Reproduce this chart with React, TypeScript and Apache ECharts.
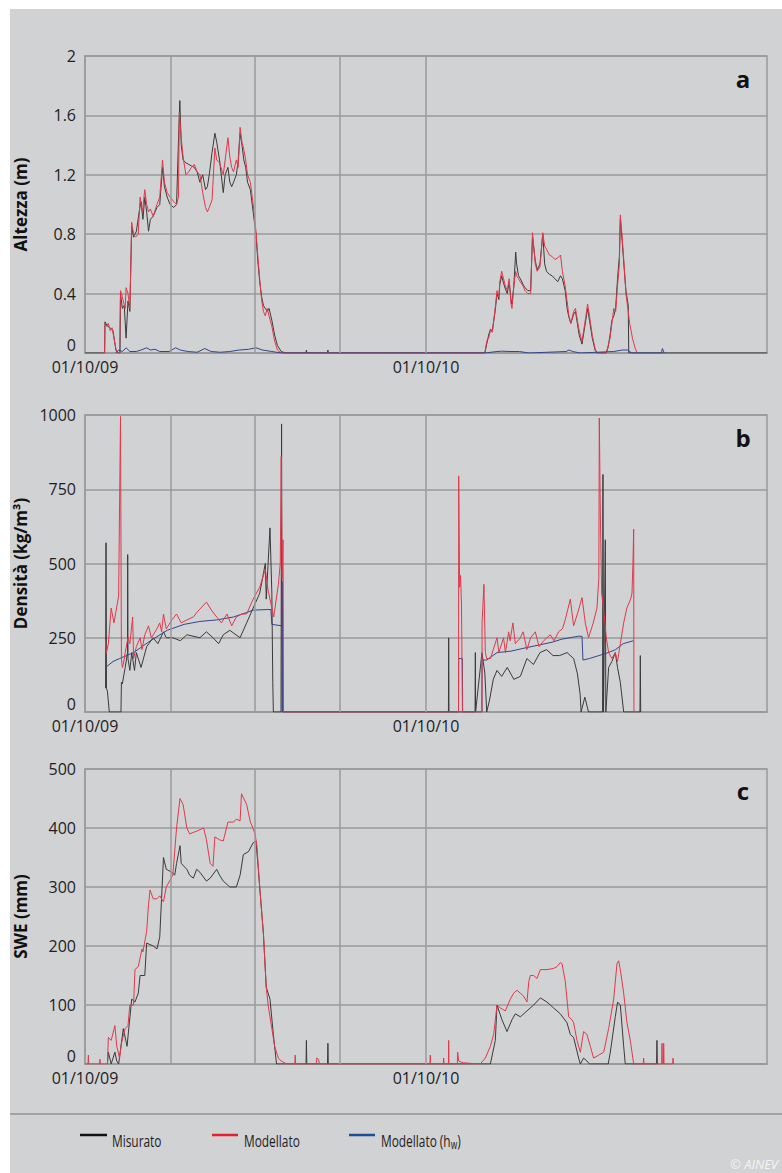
import { useEffect, useRef } from "react";
import * as echarts from "echarts";

type Pt = [number, number];

// x values are days counted from 01/10/2009
const dateLabels: Record<number, string> = { 0: "01/10/09", 365: "01/10/10" };
const quarterDays = [92, 182, 273, 365];

// ---- a: snow height (m)
const heightMeasured: Pt[] = [
  [0, 0], [21, 0], [21.4, 0.21], [24, 0.18], [27, 0.17], [30, 0.15], [33, 0.02], [36, 0], [37.5, 0],
  [38, 0.4], [40, 0.3], [42, 0.32], [44, 0.1], [46, 0.35], [48, 0.28], [50, 0.85], [52, 0.78], [55, 0.82],
  [58, 0.95], [60, 1.02], [62, 0.9], [64, 1.05], [66, 0.95], [68, 0.82], [70, 0.9], [73, 0.92], [77, 0.98],
  [80, 1.0], [83, 1.25], [85, 1.12], [88, 1.05], [91, 1.0], [95, 0.98], [98, 1.0], [100, 1.42], [101.5, 1.7],
  [103, 1.4], [105, 1.3], [108, 1.28], [111, 1.27], [114, 1.26], [117, 1.25], [120, 1.22], [123, 1.15],
  [126, 1.2], [129, 1.1], [131, 1.12], [133, 1.2], [136, 1.35], [139, 1.48], [141, 1.42], [144, 1.3],
  [148, 1.08], [150, 1.2], [153, 1.25], [155, 1.15], [157, 1.12], [159, 1.15], [162, 1.2], [164, 1.3],
  [166, 1.48], [168, 1.4], [170, 1.3], [172, 1.25], [174, 1.15], [177, 1.1], [180, 0.95], [183, 0.8],
  [185, 0.62], [187, 0.48], [189, 0.38], [191, 0.32], [193, 0.3], [195, 0.28], [197, 0.3], [200, 0.22],
  [203, 0.12], [206, 0.05], [210, 0.01], [215, 0], [236.5, 0], [237, 0.02], [237.5, 0], [259.5, 0],
  [260, 0.02], [260.5, 0], [428, 0], [430, 0.06], [432, 0.12], [434, 0.16], [436, 0.15], [439, 0.28],
  [441, 0.4], [443, 0.36], [444, 0.46], [446, 0.52], [448, 0.47], [450, 0.43], [452, 0.4], [454, 0.48],
  [456, 0.36], [457, 0.33], [459, 0.45], [461, 0.68], [462, 0.6], [464, 0.52], [466, 0.5], [469, 0.46],
  [471, 0.44], [474, 0.42], [477, 0.42], [479, 0.78], [482, 0.62], [484, 0.56], [487, 0.6], [490, 0.8],
  [492, 0.6], [494, 0.55], [497, 0.53], [500, 0.52], [503, 0.5], [506, 0.48], [509, 0.52], [511, 0.5],
  [514, 0.42], [516, 0.3], [518, 0.24], [520, 0.2], [523, 0.26], [525, 0.28], [527, 0.2], [529, 0.12],
  [532, 0.06], [535, 0.18], [538, 0.3], [540, 0.22], [543, 0.1], [546, 0.02], [548, 0], [558, 0],
  [560, 0.04], [562, 0.12], [564, 0.22], [566, 0.25], [568, 0.3], [570, 0.5], [572, 0.65], [573, 0.9],
  [575, 0.75], [577, 0.58], [579, 0.42], [581.5, 0.32], [582, 0], [591, 0], [730, 0],
];

const heightModelled: Pt[] = [
  [21, 0], [21.4, 0.2], [23, 0.18], [25, 0.2], [27, 0.15], [29, 0.17], [31, 0.1], [34, 0], [37, 0],
  [38, 0.42], [40, 0.38], [41, 0.35], [43, 0.3], [44, 0.44], [46, 0.4], [48, 0.3], [50, 0.88], [52, 0.8],
  [54, 0.78], [57, 0.8], [59, 1.05], [61, 0.95], [62, 0.98], [64, 1.1], [66, 1.0], [68, 0.95], [70, 0.97],
  [73, 0.92], [77, 1.0], [80, 1.05], [83, 1.3], [85, 1.15], [88, 1.08], [91, 1.05], [95, 1.02], [98, 1.0],
  [100, 1.05], [101, 1.62], [103, 1.45], [105, 1.32], [108, 1.2], [111, 1.22], [114, 1.25], [117, 1.27],
  [120, 1.22], [123, 1.2], [126, 1.08], [129, 0.98], [131, 0.95], [133, 0.98], [136, 1.03], [139, 1.38],
  [141, 1.3], [144, 1.28], [148, 1.2], [150, 1.3], [153, 1.45], [155, 1.32], [157, 1.25], [159, 1.22],
  [162, 1.3], [164, 1.25], [166, 1.52], [168, 1.42], [170, 1.37], [172, 1.3], [174, 1.2], [177, 1.15],
  [180, 1.0], [183, 0.82], [185, 0.65], [187, 0.5], [189, 0.36], [191, 0.28], [193, 0.25], [195, 0.3],
  [197, 0.25], [200, 0.18], [203, 0.08], [206, 0.02], [210, 0], [428, 0], [430, 0.08], [432, 0.1],
  [434, 0.15], [436, 0.14], [439, 0.3], [441, 0.42], [443, 0.38], [444, 0.48], [446, 0.55], [448, 0.5],
  [450, 0.45], [452, 0.42], [454, 0.5], [456, 0.33], [457, 0.3], [459, 0.45], [461, 0.55], [462, 0.52],
  [464, 0.5], [466, 0.48], [469, 0.45], [471, 0.42], [474, 0.4], [477, 0.4], [479, 0.81], [482, 0.6],
  [484, 0.55], [487, 0.58], [490, 0.81], [492, 0.72], [494, 0.7], [497, 0.66], [500, 0.65], [503, 0.63],
  [506, 0.64], [509, 0.66], [511, 0.55], [514, 0.45], [516, 0.35], [518, 0.25], [520, 0.2], [523, 0.28],
  [525, 0.3], [527, 0.22], [529, 0.15], [532, 0.08], [535, 0.2], [538, 0.33], [540, 0.25], [543, 0.12],
  [546, 0.03], [548, 0], [558, 0], [560, 0.05], [562, 0.1], [564, 0.2], [566, 0.3], [568, 0.28],
  [570, 0.45], [572, 0.6], [573, 0.93], [575, 0.78], [577, 0.6], [579, 0.4], [581, 0.3], [583, 0.2],
  [586, 0.1], [589, 0.03], [591, 0],
];

const heightWater: Pt[] = [
  [33, 0], [36, 0.02], [40, 0.01], [44, 0.035], [48, 0.01], [55, 0.01], [60, 0.02], [66, 0.035],
  [70, 0.02], [75, 0.025], [80, 0.01], [90, 0.01], [97, 0.035], [102, 0.02], [110, 0.01], [120, 0.005],
  [128, 0.03], [135, 0.01], [145, 0.005], [155, 0.01], [165, 0.02], [175, 0.025], [183, 0.035],
  [190, 0.02], [200, 0.01], [210, 0], [428, 0], [441, 0.01], [446, 0.012], [455, 0.01], [465, 0.01],
  [475, 0], [515, 0.01], [518, 0.02], [522, 0.01], [530, 0], [566, 0.01], [575, 0.02], [581, 0.02],
  [585, 0], [617, 0], [618, 0.03], [620, 0],
];

// ---- b: snow density (kg/m3)
const densityMeasured: Pt[] = [
  [22, 80], [22.5, 570], [23, 80], [24, 70], [26, 0], [38.5, 0], [39, 100], [40, 95], [43, 150],
  [45.5, 200], [45.7, 530], [46, 180], [48, 140], [50, 200], [53, 140], [55, 200], [60, 150], [66, 220],
  [73, 250], [78, 230], [84, 270], [87, 250], [94, 250], [102, 240], [109, 260], [123, 250], [130, 270],
  [137, 250], [143, 230], [148, 260], [155, 275], [166, 250], [173, 300], [180, 350], [187, 400],
  [193, 500], [194, 380], [198, 620], [200, 400], [201, 100], [201.6, 0], [209.8, 0], [210.4, 970],
  [211, 0], [389, 0], [389.3, 250], [389.6, 0], [417.5, 0], [417.8, 200], [418.1, 0], [424.9, 200],
  [428, 130], [430, 0], [433, 40], [437, 110], [441, 140], [446, 120], [452, 150], [459, 110],
  [466, 120], [473, 180], [480, 160], [487, 200], [494, 210], [501, 190], [508, 190], [516, 200],
  [523, 180], [527, 130], [530, 60], [531, 0], [535, 50], [539, 0], [554, 0], [554.4, 800], [555, 0],
  [556.9, 580], [557.5, 0], [560.5, 150], [564, 170], [567.6, 200], [570, 150], [573, 100], [576.6, 0],
  [594, 0], [594.4, 190], [594.8, 0],
];

const densityModelled: Pt[] = [
  [22, 240], [23, 200], [25, 230], [28, 350], [31, 300], [36, 390], [38, 995], [39, 180], [40, 150],
  [41, 160], [43, 200], [46, 250], [48, 230], [51, 320], [52, 180], [55, 220], [59, 250], [61, 210],
  [64, 260], [68, 290], [71, 250], [77, 280], [80, 300], [82, 270], [84, 330], [87, 280], [93, 310],
  [98, 330], [103, 300], [109, 310], [116, 320], [121, 340], [130, 370], [136, 340], [141, 320],
  [146, 300], [152, 330], [157, 290], [162, 320], [168, 330], [173, 330], [180, 380], [187, 420],
  [193, 480], [196, 410], [200, 350], [202, 320], [207, 430], [209, 500], [210, 860], [211, 450],
  [212, 580], [212.5, 0], [399.8, 0], [400, 795], [401, 420], [402, 460], [403, 360], [404, 0],
  [424.9, 0], [425, 300], [427, 430], [428.5, 200], [430, 180], [434, 180], [437, 210], [441, 250],
  [443, 200], [448, 250], [450, 200], [453.5, 270], [455, 240], [458, 300], [460.6, 230], [466, 250],
  [469, 270], [473, 210], [477, 250], [482, 270], [486, 220], [491, 240], [498, 260], [502, 240],
  [507, 270], [511, 280], [514, 310], [519.5, 380], [523, 290], [528, 340], [532, 385], [535.5, 300],
  [539, 250], [544, 300], [548, 350], [550, 450], [550.5, 990], [551.6, 670], [553, 400], [555, 350],
  [558, 250], [560.5, 200], [564, 180], [567.6, 200], [570, 170], [573, 230], [576.6, 300], [580, 350],
  [584, 380], [585.5, 400], [586.5, 500], [587.3, 615], [587.6, 0],
];

const densityWater: Pt[] = [
  [22, 150], [30, 170], [37, 180], [52, 200], [70, 240], [88, 275], [106, 295], [123, 305], [141, 310],
  [159, 320], [173, 335], [180, 343], [195, 345], [199, 345], [200, 295], [211, 290], [211.4, 440],
  [211.6, 0], [399.8, 0], [400, 180], [404, 180], [404.2, 0], [424.9, 0], [425, 175], [430, 175],
  [441, 200], [456, 205], [470, 215], [485, 225], [500, 235], [510, 245], [519, 250], [528, 255],
  [532, 255], [533, 175], [540, 180], [550, 190], [560, 200], [568, 210], [576, 230], [587, 240],
];

// ---- c: snow water equivalent (mm)
const sweMeasured: Pt[] = [
  [24, 0], [25, 20], [28, 0], [32, 20], [34, 5], [36, 0], [41, 60], [45, 30], [50, 110], [53.5, 105],
  [57, 120], [59, 150], [64, 150], [66, 205], [73, 200], [77, 195], [80, 215], [84, 350], [87, 330],
  [93, 325], [96, 320], [98, 340], [101.7, 370], [103, 340], [109, 330], [112, 320], [116, 315],
  [119.5, 330], [123, 325], [130, 310], [134, 315], [141, 330], [144, 320], [148, 310], [155, 300],
  [162, 300], [166, 320], [169.5, 355], [175, 360], [180, 375], [183, 378], [185.5, 330], [191, 220],
  [194, 130], [198, 110], [201.6, 50], [205, 0], [236.6, 0], [237, 40], [237.4, 0], [259.6, 0],
  [260, 35], [260.4, 0], [433.9, 0], [439.2, 40], [441, 100], [446.3, 75], [451.7, 55], [457, 75],
  [460.6, 85], [466, 80], [473.1, 90], [480.2, 100], [487.4, 112], [494.5, 105], [501.6, 95],
  [508.8, 85], [515.9, 70], [519.5, 50], [523, 45], [528.4, 10], [530.2, 0], [533.7, 10], [537.3, 5],
  [540, 0], [560, 0], [562.3, 20], [567.6, 80], [570.1, 105], [573, 100], [576.6, 30], [578.3, 0],
  [611.8, 0], [612.2, 40], [612.6, 0],
];

const sweModelled: Pt[] = [
  [0, 0], [3.2, 0], [3.6, 15], [4, 0], [15.6, 0], [16, 8], [16.4, 0], [24, 0], [25, 45], [28, 40],
  [32, 65], [34, 30], [37, 10], [39, 35], [43, 60], [46, 65], [48, 100], [52, 100], [53.5, 160],
  [57, 165], [61, 195], [62, 190], [66, 225], [68, 270], [69.6, 295], [73, 280], [77, 280], [80, 285],
  [84, 275], [87, 300], [94, 320], [98, 400], [101.7, 450], [105, 440], [109, 400], [112, 390],
  [120, 395], [127, 400], [130, 380], [134, 340], [137, 335], [139, 385], [144, 380], [148, 378],
  [153, 410], [159, 410], [162, 415], [166, 412], [167.5, 458], [173, 440], [177, 410], [178.5, 405],
  [182, 390], [184, 370], [187, 300], [191, 220], [194, 130], [196, 100], [200, 60], [203, 30],
  [207, 10], [210, 5], [216, 0], [224.6, 0], [225, 15], [225.4, 0], [247.6, 0], [248, 10], [250, 8],
  [251, 0], [369.2, 0], [369.6, 15], [370, 0], [383.5, 0], [383.9, 10], [384.3, 0], [389, 0],
  [389.3, 40], [389.6, 0], [398.5, 0], [398.9, 20], [400, 5], [405, 2], [423, 0], [428.5, 10],
  [433.9, 30], [437.4, 50], [441, 100], [444.6, 95], [449.9, 90], [455.3, 110], [458.8, 120],
  [462.4, 125], [466, 120], [469.5, 115], [473.1, 105], [475, 140], [476.7, 150], [480.2, 150],
  [483.8, 145], [487.4, 160], [494.5, 160], [501.6, 162], [505.2, 165], [508.8, 172], [510.6, 170],
  [514.1, 140], [517.7, 80], [521.3, 75], [523, 70], [526.6, 40], [530.2, 20], [533.7, 55], [537.3, 50],
  [540.9, 30], [544.4, 10], [549.8, 15], [555.2, 20], [560.5, 60], [565.9, 110], [569.4, 170],
  [571.2, 175], [573, 160], [576.6, 120], [580.1, 70], [583.7, 40], [587.3, 0], [597.5, 0], [597.9, 10],
  [598.3, 0], [617.3, 0], [617.6, 35], [618, 0], [619.2, 0], [619.4, 35], [619.8, 0], [629, 0],
  [629.4, 10], [630, 0],
];

const panelLetters = ["a", "b", "c"];
const legendNames = ["Misurato", "Modellato", "Modellato (hw)"];

const COL_MEAS = "#3a3a3a";
const COL_MOD = "#e0394a";
const COL_HW = "#34458c";
const GRID_COL = "#9a9a9a";
const FONT = "'Open Sans', 'Noto Sans', sans-serif";

export default function App() {
  const ref = useRef<HTMLDivElement>(null);

  useEffect(() => {
    document.body.style.margin = "0";
    if (!ref.current) return;
    const chart = echarts.init(ref.current, undefined, { renderer: "svg" });

    const grids = [
      { left: 75, top: 47, width: 682, height: 297 },
      { left: 75, top: 406, width: 682, height: 297 },
      { left: 75, top: 760, width: 682, height: 295 },
    ];
    const yCfg = [
      { min: 0, max: 2, interval: 0.4, name: "Altezza (m)" },
      { min: 0, max: 1000, interval: 250, name: "Densità (kg/m³)" },
      { min: 0, max: 500, interval: 100, name: "SWE (mm)" },
    ];

    const lineSeries = (name: string, idx: number, data: Pt[], color: string, z: number) => ({
      type: "line",
      name,
      xAxisIndex: idx,
      yAxisIndex: idx,
      data,
      showSymbol: false,
      symbol: "none",
      z,
      lineStyle: { color, width: 1 },
      itemStyle: { color },
    });

    const guideSeries = (idx: number) => ({
      type: "line",
      xAxisIndex: idx,
      yAxisIndex: idx,
      data: [[0, 0]],
      symbol: "none",
      lineStyle: { opacity: 0 },
      z: 1,
      silent: true,
      markLine: {
        silent: true,
        symbol: "none",
        label: { show: false },
        lineStyle: { color: GRID_COL, width: 1.5, type: "solid" },
        data: quarterDays.map((d) => ({ xAxis: d })),
      },
    });

    const labelStyle = { fontSize: 16, color: "#1e1e1e", fontFamily: FONT };

    // main value axes (all labels except zero)
    const mainY = yCfg.map((c, i) => ({
      type: "value",
      gridIndex: i,
      position: "left",
      min: c.min,
      max: c.max,
      interval: c.interval,
      name: c.name,
      nameLocation: "middle",
      nameGap: 56,
      nameTextStyle: { fontSize: 17, fontWeight: "bold", color: "#111", fontFamily: FONT },
      axisLine: { show: true, lineStyle: { color: GRID_COL, width: 1.5 } },
      axisTick: { show: false },
      splitLine: { show: true, lineStyle: { color: GRID_COL, width: 1.5 } },
      axisLabel: { ...labelStyle, margin: 9, formatter: (v: number) => (v === 0 ? "" : String(v)) },
    }));
    // companion axes carrying only the zero label, set just above the axis line
    const zeroY = yCfg.map((c, i) => ({
      type: "value",
      gridIndex: i,
      position: "left",
      offset: 0,
      min: c.min,
      max: c.max,
      interval: c.interval,
      axisLine: { show: false },
      axisTick: { show: false },
      splitLine: { show: false },
      axisLabel: {
        ...labelStyle,
        margin: 9,
        verticalAlign: "bottom",
        lineHeight: 16,
        formatter: (v: number) => (v === 0 ? "0" : ""),
      },
    }));

    const option = {
      animation: false,
      backgroundColor: "#d1d2d4",
      grid: grids.map((g) => ({
        ...g,
        containLabel: false,
        outerBoundsMode: "none",
        show: true,
        borderColor: GRID_COL,
        borderWidth: 1.5,
        backgroundColor: "transparent",
      })),
      xAxis: grids.map((_, i) => ({
        type: "value",
        gridIndex: i,
        min: 0,
        max: 730,
        interval: 365,
        axisLine: { show: true, lineStyle: { color: GRID_COL, width: 1.5 } },
        axisTick: { show: false },
        splitLine: { show: false },
        axisLabel: {
          ...labelStyle,
          margin: 6,
          lineHeight: 16,
          formatter: (v: number) => dateLabels[v] ?? "",
        },
      })),
      yAxis: [...mainY, ...zeroY],
      series: [
        guideSeries(0),
        guideSeries(1),
        guideSeries(2),
        lineSeries(legendNames[0], 0, heightMeasured, COL_MEAS, 2),
        lineSeries(legendNames[1], 0, heightModelled, COL_MOD, 3),
        lineSeries(legendNames[2], 0, heightWater, COL_HW, 4),
        lineSeries(legendNames[0], 1, densityMeasured, COL_MEAS, 2),
        lineSeries(legendNames[2], 1, densityWater, COL_HW, 3),
        lineSeries(legendNames[1], 1, densityModelled, COL_MOD, 4),
        lineSeries(legendNames[0], 2, sweMeasured, COL_MEAS, 2),
        lineSeries(legendNames[1], 2, sweModelled, COL_MOD, 3),
      ],
      graphic: [
        ...panelLetters.map((t, i) => ({
          type: "text",
          x: 733,
          y: [69, 428, 781][i],
          style: { text: t, fontSize: 24, fontWeight: "bold", fill: "#111", fontFamily: FONT, align: "center", verticalAlign: "middle" },
        })),
        { type: "line", shape: { x1: 0, y1: 1105, x2: 772, y2: 1105 }, style: { stroke: "#a3a3a3", lineWidth: 2 } },
        ...["#111111", "#e4202e", "#1f4e98"].map((c, i) => ({
          type: "line",
          shape: { x1: [70, 202, 339][i], y1: 1126, x2: [97, 228, 365][i], y2: 1126 },
          style: { stroke: c, lineWidth: 2.5 },
        })),
        ...[0, 1].map((i) => ({
          type: "text",
          x: [102, 234][i],
          y: 1131,
          scaleX: 0.7,
          style: { text: legendNames[i], fontSize: 17, fill: "#1e1e1e", fontFamily: FONT, verticalAlign: "middle" },
        })),
        {
          type: "text",
          x: 371,
          y: 1131,
          scaleX: 0.7,
          style: {
            text: "Modellato (h{s|w})",
            fontSize: 17,
            fill: "#1e1e1e",
            fontFamily: FONT,
            verticalAlign: "middle",
            rich: { s: { fontSize: 12, fill: "#1e1e1e", verticalAlign: "bottom", padding: [8, 0, 0, 0], fontFamily: FONT } },
          },
        },
        {
          type: "text",
          x: 768,
          y: 1155,
          style: { text: "© AINEV", fontSize: 13, fontStyle: "italic", fill: "#f4f4f4", fontFamily: FONT, align: "right", verticalAlign: "middle" },
        },
      ],
    };

    chart.setOption(option as any);
    return () => chart.dispose();
  }, []);

  return (
    <div style={{ position: "relative", width: 782, height: 1173, background: "#ffffff" }}>
      <div ref={ref} style={{ position: "absolute", left: 10, top: 9, width: 772, height: 1164 }} />
    </div>
  );
}
